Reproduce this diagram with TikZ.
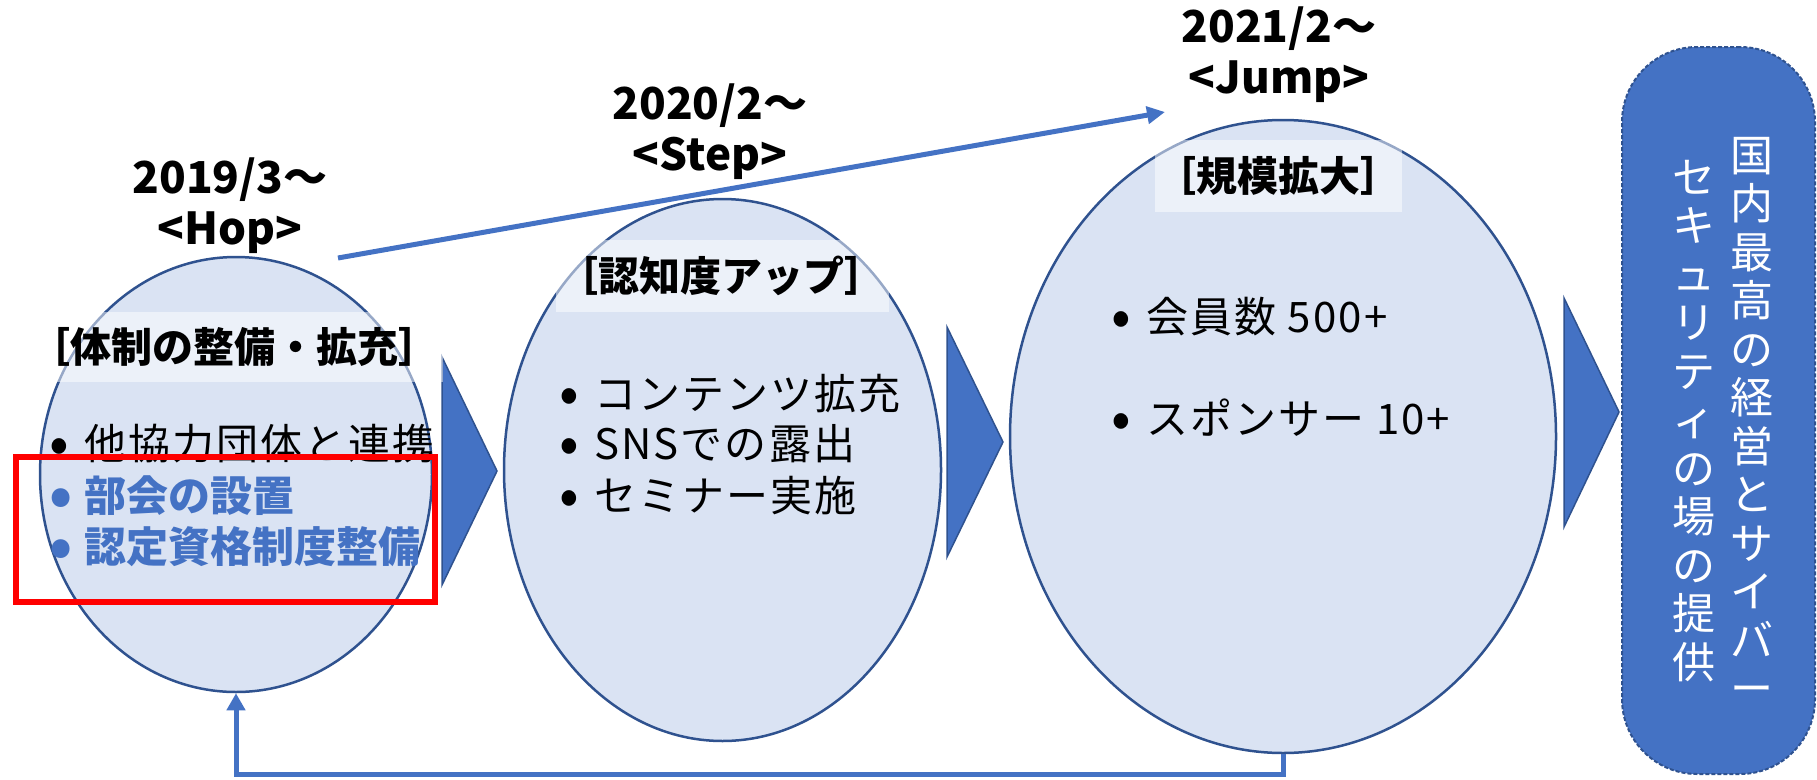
\documentclass[tikz,border=0pt]{standalone}
\usepackage{fontspec}
\setmainfont{Noto Sans CJK JP}
\usetikzlibrary{shapes.geometric,arrows.meta}
\definecolor{ellfill}{HTML}{DAE3F3}
\definecolor{ellline}{HTML}{2F528F}
\definecolor{accent}{HTML}{4472C4}
\newcommand{\bul}[1]{\makebox[33pt][l]{\hspace{-2pt}\smash{\raisebox{-4pt}{\fontsize{58}{58}\selectfont •}}}#1}
\tikzset{
  ell/.style={ellipse, draw=ellline, fill=ellfill, line width=2.5pt, inner sep=0pt},
  band/.style={fill=white, fill opacity=0.5},
  datelbl/.style={font=\fontsize{44}{51}\selectfont\bfseries, align=center, inner sep=0pt},
  ttl/.style={font=\fontsize{41}{48}\selectfont\bfseries, inner sep=0pt},
  body/.style={font=\fontsize{42}{50}\selectfont\addfontfeature{LetterSpace=5}, anchor=west, inner sep=0pt, text height=31pt, text depth=1pt},
  hi/.style={font=\fontsize{42}{50}\selectfont\bfseries, text=accent, anchor=west, inner sep=0pt, text height=31pt, text depth=1pt},
  tri/.style={fill=accent, draw=ellline, line width=1.5pt, line join=miter},
  flow/.style={draw=accent, line width=5pt},
  goal/.style={rectangle, rounded corners=75pt, fill=accent, draw=ellline, line width=2pt, dash pattern=on 4pt off 2pt, minimum width=193pt, minimum height=727pt, inner sep=0pt},
  vtxt/.style={text=white, font=\fontsize{43}{48.5}\selectfont, align=center, inner sep=0pt},
  redbox/.style={draw=red, line width=6pt}
}
\begin{document}
\begin{tikzpicture}[x=1pt,y=-1pt]
\useasboundingbox (0,0) rectangle (1817,779);

% ellipses
\node[ell, minimum width=392pt, minimum height=435pt] (e1) at (236,474.5) {};
\node[ell, minimum width=437pt, minimum height=542pt] (e2) at (722.5,470) {};
\node[ell, minimum width=546pt, minimum height=633pt] (e3) at (1283,436.5) {};

% triangles
\fill[tri] (442,357) -- (497,471) -- (442,585) -- cycle;
\fill[tri] (947,327) -- (1003,442) -- (947,557) -- cycle;
\fill[tri] (1564,298) -- (1619,412) -- (1564,527) -- cycle;

% goal box
\node[goal] (goal) at (1718.5,410.5) {};
\node[vtxt] (g1) at (1752,421) {国\\内\\最\\高\\の\\経\\営\\と\\サ\\イ\\バ\\ー};
\node[vtxt] (g2) at (1694,421) {セ\\キ\\ュ\\リ\\テ\\ィ\\の\\場\\の\\提\\供};

% title bands
\fill[band] (25,312) rectangle (443,382);
\fill[band] (556,240) rectangle (889,312);
\fill[band] (1155,140) rectangle (1402,212);

\node[ttl] (t1) at (234,347) {［体制の整備・拡充］};
\node[ttl] (t2) at (721,276) {［認知度アップ］};
\node[ttl] (t3) at (1278,176) {［規模拡大］};

% dates
\node[datelbl] (d1) at (230,206) {2019/3〜\\<Hop>};
\node[datelbl] (d2) at (710,132) {2020/2〜\\<Step>};
\node[datelbl] (d3) at (1279,55) {2021/2〜\\<Jump>};

% body
\node[body] (b11) at (51,444) {\bul{他協力団体と連携}};
\node[hi] (b12) at (51,496) {\bul{部会の設置}};
\node[hi] (b13) at (51,547) {\bul{認定資格制度整備}};

\node[body] (b21) at (561,394) {\bul{コンテンツ拡充}};
\node[body] (b22) at (561,444) {\bul{SNSでの露出}};
\node[body] (b23) at (561,496) {\bul{セミナー実施}};

\node[body] (b31) at (1113,317) {\bul{会員数 500+}};
\node[body] (b32) at (1113,419) {\bul{スポンサー 10+}};

% connectors
\coordinate (as) at (338,258);
\coordinate (ae) at (1165,112);
\draw[flow, -{Triangle[length=18pt,width=17pt]}] (as) -- (ae);
\draw[flow, -{Triangle[length=17pt,width=18pt]}] (e3.south) -- (e3.south |- 0,774) -| (e1.south);

% highlight
\draw[redbox] (16,457) rectangle (435,602);
\end{tikzpicture}
\end{document}
